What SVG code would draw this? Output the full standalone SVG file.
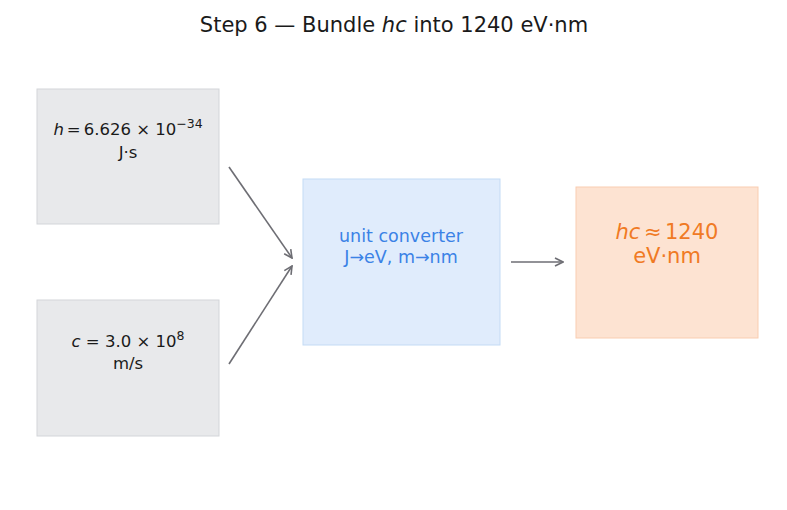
<svg xmlns="http://www.w3.org/2000/svg" width="787" height="510" viewBox="0 0 787 510">
<style>
text{font-family:"DejaVu Sans",sans-serif;text-anchor:middle}
.in rect{fill:#e8e9eb;stroke:#d3d5d9;stroke-width:1}
.in text{fill:#1a1a1a;font-size:16.5px}
.conn line{stroke:#6e6e74;stroke-width:1.6;fill:none}
</style>
<defs>
<marker id="ah" viewBox="0 0 10 10" refX="9" refY="5" markerWidth="10" markerHeight="10" markerUnits="userSpaceOnUse" orient="auto">
<path d="M1,1 L9,5 L1,9" fill="none" stroke="#6e6e74" stroke-width="1.6"/>
</marker>
</defs>
<rect width="787" height="510" fill="#ffffff"/>
<text x="394" y="32" font-size="21" fill="#1a1a1a">Step 6 — Bundle <tspan font-style="italic">hc</tspan> into 1240 eV·nm</text>
<g id="node-h" class="in">
<rect x="37" y="89" width="182" height="135"/>
<text x="128" y="135"><tspan font-style="italic">h</tspan><tspan dx="3">=</tspan><tspan dx="3">6.626 × 10</tspan><tspan font-size="12.5" dy="-7">−34</tspan></text>
<text x="128" y="158">J·s</text>
</g>
<g id="node-c" class="in">
<rect x="37" y="300" width="182" height="136"/>
<text x="128" y="347"><tspan font-style="italic">c</tspan> = 3.0 × 10<tspan font-size="12.5" dy="-7">8</tspan></text>
<text x="128" y="369">m/s</text>
</g>
<g id="node-conv">
<rect x="303" y="179" width="197" height="166" fill="#e0ecfc" stroke="#c4dbf5" stroke-width="1"/>
<text x="401" y="242" font-size="17.5" fill="#3b82e6">unit converter</text>
<text x="401" y="263" font-size="17.5" fill="#3b82e6">J→eV, m→nm</text>
</g>
<g id="node-result">
<rect x="576" y="187" width="182" height="151" fill="#fde3d2" stroke="#f9cdb1" stroke-width="1"/>
<text x="667" y="239" font-size="21" fill="#f07a24"><tspan font-style="italic">hc</tspan><tspan dx="3.5">≈</tspan><tspan dx="3.5">1240</tspan></text>
<text x="667" y="263" font-size="21" fill="#f07a24">eV·nm</text>
</g>
<g id="connectors" class="conn">
<line x1="229" y1="167" x2="292" y2="258" marker-end="url(#ah)"/>
<line x1="229" y1="364" x2="292" y2="266" marker-end="url(#ah)"/>
<line x1="511" y1="262" x2="563" y2="262" marker-end="url(#ah)"/>
</g>
</svg>
